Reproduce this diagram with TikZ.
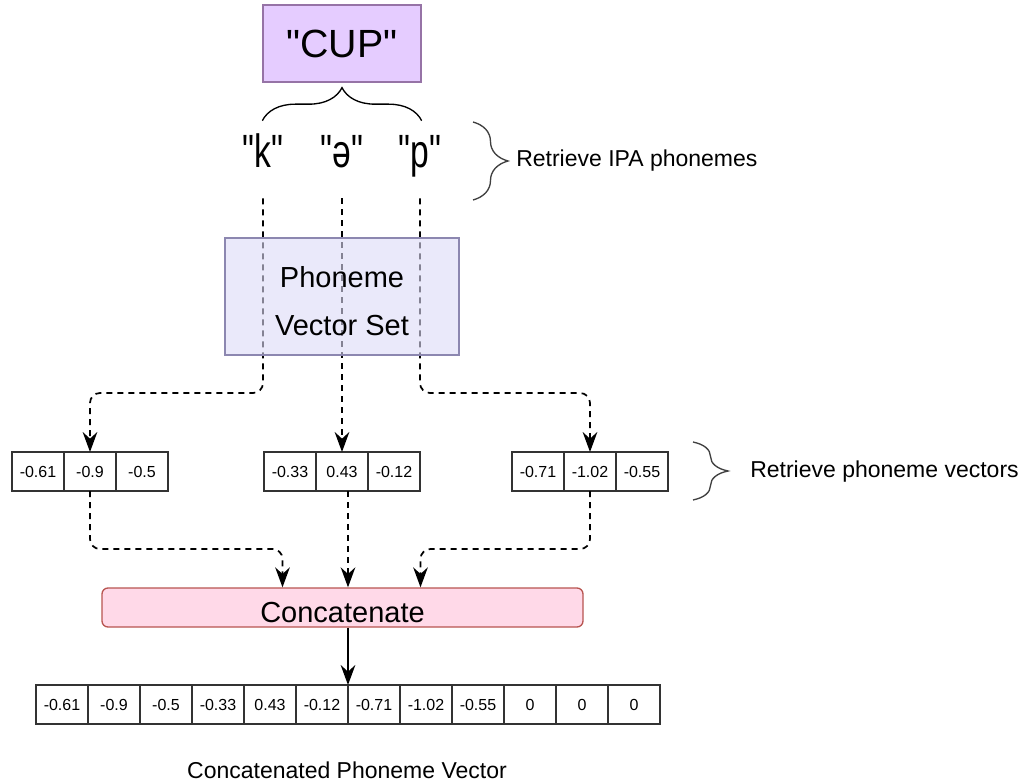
\documentclass[tikz,border=0pt]{standalone}
\usepackage{graphicx}
\usepackage{fontspec}
\setmainfont{Liberation Sans}[Ligatures=TeXOff]
\usetikzlibrary{arrows.meta,decorations.pathreplacing,positioning}
\definecolor{cupfill}{HTML}{E5CCFF}
\definecolor{cupline}{HTML}{9673A6}
\definecolor{setfill}{HTML}{DCDAF6}
\definecolor{setline}{HTML}{8C87B0}
\definecolor{catfill}{HTML}{FFD9E8}
\definecolor{catline}{HTML}{B85450}
\definecolor{braceline}{HTML}{404040}
\newcommand{\phonlabel}[1]{\scalebox{0.72}[1]{"#1"}}
\tikzset{
  >={Stealth[length=15pt,width=11pt,inset=5pt]},
  cell/.style={draw=black!80, fill=white, line width=1pt, minimum width=39pt,
    minimum height=29.25pt, inner sep=0pt, outer sep=0pt,
    font=\fontsize{12}{14}\selectfont},
  phon/.style={inner sep=0pt, anchor=base, text depth=22.5pt,
    font=\fontsize{35}{40}\selectfont},
  dflow/.style={->, line width=1.3pt, dash pattern=on 4.5pt off 3.75pt,
    rounded corners=7.5pt},
  bracket/.style={decorate, line width=1pt, draw=braceline,
    decoration={brace, amplitude=26.25pt}},
  note/.style={inner sep=0pt, font=\fontsize{17.25}{20}\selectfont}
}

\begin{document}
\begin{tikzpicture}[x=0.75pt,y=-0.75pt]
\useasboundingbox (0,0) rectangle (1029,784);

% word and its phonemes
\node[draw=cupline, fill=cupfill, line width=1pt, minimum width=118.5pt,
  minimum height=57.75pt, font=\fontsize{29.5}{34}\selectfont] (cup) at (342,43.5) {"CUP"};
\draw[decorate, decoration={brace, amplitude=24.75pt}, line width=1pt]
  ([yshift=-28.5pt]cup.south west) -- ([yshift=-28.5pt]cup.south east);
\node[phon] (k) at (263,168) {\phonlabel{k}};
\node[phon] (schwa) at (342,168) {\phonlabel{ə}};
\node[phon] (p) at (420,168) {\phonlabel{p}};
\draw[bracket] (473,122) -- (473,200);
\node[note, anchor=base west] (ipa) at (516,167) {Retrieve IPA phonemes};

% phoneme vectors
\node[cell] (k1) at (38,471.5) {-0.61};
\node[cell, right=0pt of k1] (k2) {-0.9};
\node[cell, right=0pt of k2] (k3) {-0.5};
\node[cell] (s1) at (290,471.5) {-0.33};
\node[cell, right=0pt of s1] (s2) {0.43};
\node[cell, right=0pt of s2] (s3) {-0.12};
\node[cell] (p1) at (538,471.5) {-0.71};
\node[cell, right=0pt of p1] (p2) {-1.02};
\node[cell, right=0pt of p2] (p3) {-0.55};
\draw[bracket] (693,442) -- (693,500);
\node[note, anchor=base west] (vecs) at (750,477) {Retrieve phoneme vectors};

% lookup
\coordinate (upbend) at (0,393);
\draw[dflow] (k.south) -- (k.south |- upbend) -| (k2.north);
\draw[dflow] (schwa.south) -- (s2.north);
\draw[dflow] (p.south) -- (p.south |- upbend) -| (p2.north);
\node[draw=setline, line width=1pt, fill=setfill, fill opacity=0.6, text opacity=1,
  minimum width=175.5pt, minimum height=87.75pt, align=center,
  font=\fontsize{21.75}{36}\selectfont] (set) at (342,296.5) {\rule{0pt}{22.5pt}Phoneme\\Vector Set};

% concatenation
\node[draw=catline, fill=catfill, line width=1pt, rounded corners=4.5pt,
  minimum width=360.75pt, minimum height=29.25pt, text height=21.75pt, text depth=0pt,
  font=\fontsize{21.75}{26}\selectfont] (cat) at (342.5,607.5) {Concatenate};
\coordinate (lowbend) at (0,549);
\draw[dflow] (k2.south) -- (k2.south |- lowbend) -| ([xshift=-45pt]cat.north);
\draw[dflow] ([xshift=4.5pt]s2.south) -- ([xshift=4.5pt]s2.south |- cat.north);
\draw[dflow] (p2.south) -- (p2.south |- lowbend) -| ([xshift=58.5pt]cat.north);

% result
\node[cell] (c1) at (62,704.5) {-0.61};
\node[cell, right=0pt of c1] (c2) {-0.9};
\node[cell, right=0pt of c2] (c3) {-0.5};
\node[cell, right=0pt of c3] (c4) {-0.33};
\node[cell, right=0pt of c4] (c5) {0.43};
\node[cell, right=0pt of c5] (c6) {-0.12};
\node[cell, right=0pt of c6] (c7) {-0.71};
\node[cell, right=0pt of c7] (c8) {-1.02};
\node[cell, right=0pt of c8] (c9) {-0.55};
\node[cell, right=0pt of c9] (c10) {0};
\node[cell, right=0pt of c10] (c11) {0};
\node[cell, right=0pt of c11] (c12) {0};
\draw[->, line width=1.3pt] (c6.north east |- cat.south) -- (c6.north east);
\node[note, anchor=base] (caption) at (347,778) {Concatenated Phoneme Vector};
\end{tikzpicture}
\end{document}
